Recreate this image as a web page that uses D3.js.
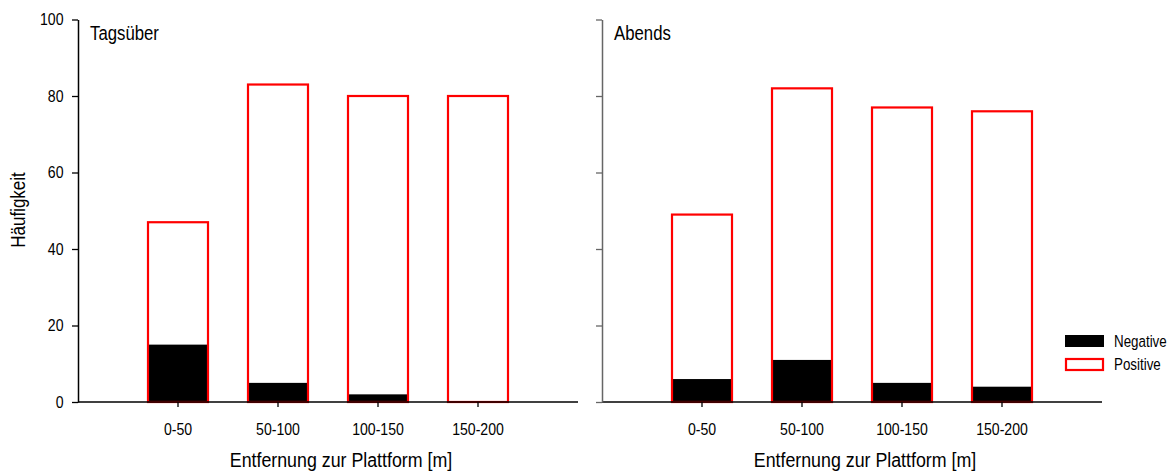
<!DOCTYPE html>
<html>
<head>
<meta charset="utf-8">
<script src="https://cdn.jsdelivr.net/npm/d3@7"></script>
<style>
  html, body { margin: 0; padding: 0; background: #fff; }
  svg { display: block; }
  text { font-family: "Liberation Sans", Arial, sans-serif; fill: #000; }
</style>
</head>
<body>
<svg id="chart" width="1173" height="473"></svg>
<script>
// Distance classes (m) and counts per class
const categories = ["0-50", "50-100", "100-150", "150-200"];
const panelTitles = ["Tagsüber", "Abends"];
const dayPositive = [47, 83, 80, 80];
const dayNegative = [15, 5, 2, 0];
const eveningPositive = [49, 82, 77, 76];
const eveningNegative = [6, 11, 5, 4];
const yTicks = [0, 20, 40, 60, 80, 100];
const legendLabels = ["Negative", "Positive"];
const xTitle = "Entfernung zur Plattform [m]";
const yTitle = "Häufigkeit";

// narrow-face look: squeeze glyphs horizontally
const NARROW = 0.83;

const svg = d3.select("#chart");

const y = d3.scaleLinear().domain([0, 100]).range([402, 19.5]);

// text placed at (x, y), condensed horizontally around its anchor
function narrowText(parent, x, yPos, str, size, anchor, sx, rotate) {
  const rot = rotate ? ` rotate(${rotate})` : "";
  return parent.append("text")
    .attr("transform", `translate(${x},${yPos})${rot} scale(${sx},1)`)
    .attr("text-anchor", anchor || "start")
    .attr("font-size", size)
    .text(str);
}

const panels = [
  { left: 78, title: panelTitles[0], pos: dayPositive, neg: dayNegative, labels: true, axisColor: "#000" },
  { left: 602, title: panelTitles[1], pos: eveningPositive, neg: eveningNegative, labels: false, axisColor: "#666" }
];

panels.forEach(p => {
  const g = svg.append("g");
  const axisEnd = p.left + 500;
  const x = d3.scaleBand()
    .domain(categories)
    .range([p.left + 50, p.left + 450])
    .paddingInner(0.4)
    .paddingOuter(0.2);

  // negative counts: solid black bars
  g.selectAll("rect.neg").data(p.neg).join("rect")
    .attr("class", "neg")
    .attr("x", (d, i) => x(categories[i]))
    .attr("width", x.bandwidth())
    .attr("y", d => y(d))
    .attr("height", d => y(0) - y(d))
    .attr("fill", "#000");

  // positive counts: red outlined bars from zero
  g.selectAll("rect.pos").data(p.pos).join("rect")
    .attr("class", "pos")
    .attr("x", (d, i) => x(categories[i]))
    .attr("width", x.bandwidth())
    .attr("y", d => y(d))
    .attr("height", d => y(0) - y(d))
    .attr("fill", "none")
    .attr("stroke", "#ff0000")
    .attr("stroke-width", 2.2);

  // x axis
  const xAxis = g.append("g")
    .attr("transform", `translate(0,${y(0)})`)
    .call(d3.axisBottom(x).tickSize(5).tickPadding(16).tickSizeOuter(0));
  xAxis.attr("font-family", null).attr("font-size", null);
  xAxis.select(".domain").remove();
  xAxis.selectAll(".tick line").attr("stroke", "#000").attr("stroke-width", 1.3);
  xAxis.selectAll(".tick text")
    .attr("font-size", 17).attr("fill", "#000")
    .attr("transform", `scale(${NARROW},1)`);
  xAxis.append("line")
    .attr("x1", p.left).attr("x2", axisEnd)
    .attr("stroke", "#000").attr("stroke-width", 1.5);

  // y axis
  const yAxis = g.append("g")
    .attr("transform", `translate(${p.left},0)`)
    .call(d3.axisLeft(y).tickValues(yTicks).tickSize(6).tickPadding(8).tickSizeOuter(0));
  yAxis.attr("font-family", null).attr("font-size", null);
  yAxis.select(".domain").attr("stroke", p.axisColor).attr("stroke-width", 1.5);
  yAxis.selectAll(".tick line").attr("stroke", p.axisColor).attr("stroke-width", 1.3);
  if (p.labels) {
    yAxis.selectAll(".tick text")
      .attr("font-size", 17).attr("fill", "#000")
      .attr("x", -14.5 / NARROW)
      .attr("transform", `scale(${NARROW},1)`);
  } else {
    yAxis.selectAll(".tick text").remove();
  }

  // panel title
  narrowText(g, p.left + 12, 40, p.title, 19.5, "start", 0.86);

  // x axis title
  narrowText(g, p.left + 263, 467, xTitle, 20, "middle", 0.89);
});

// y axis title
narrowText(svg, 25, 210, yTitle, 20.5, "middle", 0.83, -90);

// legend
const legend = svg.append("g");
legend.append("rect")
  .attr("x", 1065).attr("y", 335).attr("width", 39).attr("height", 12)
  .attr("fill", "#000");
legend.append("rect")
  .attr("x", 1066).attr("y", 359).attr("width", 37).attr("height", 11)
  .attr("fill", "none").attr("stroke", "#ff0000").attr("stroke-width", 2.2);
legendLabels.forEach((d, i) => {
  narrowText(legend, 1114, 347 + i * 23, d, 16.5, "start", 0.81);
});
</script>
</body>
</html>
